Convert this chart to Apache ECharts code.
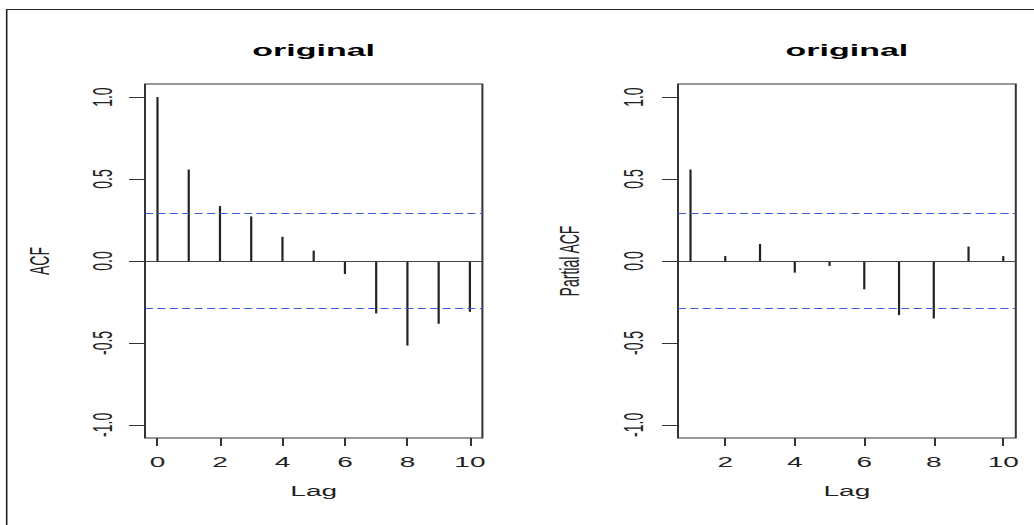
<!DOCTYPE html>
<html>
<head>
<meta charset="utf-8">
<script src="https://cdn.jsdelivr.net/npm/echarts@6/dist/echarts.min.js"></script>
<style>
html,body{margin:0;padding:0;background:#fff;overflow:hidden;}
#c{width:517px;height:525px;transform:scaleX(2);transform-origin:0 0;}
</style>
</head>
<body>
<div id="c"></div>
<script>
// ---- data ----
const acfLags = [0, 1, 2, 3, 4, 5, 6, 7, 8, 9, 10];
const acfValues = [1.0, 0.558, 0.335, 0.272, 0.148, 0.063, -0.079, -0.32, -0.516, -0.383, -0.31];
const pacfLags = [1, 2, 3, 4, 5, 6, 7, 8, 9, 10];
const pacfValues = [0.558, 0.030, 0.104, -0.071, -0.030, -0.173, -0.33, -0.351, 0.088, 0.030];
const ciBound = 0.29;
const acfTicksX = [0, 2, 4, 6, 8, 10];
const pacfTicksX = [2, 4, 6, 8, 10];
const yTicks = [-1, -0.5, 0, 0.5, 1];
const panelTitles = ['original', 'original'];
const yNames = ['ACF', 'Partial ACF'];
const xName = 'Lag';

const FONT = 'Liberation Sans, Arial, sans-serif';
const TXT = '#222';

function pairs(xs, ys) { return xs.map((x, i) => [x, ys[i]]); }

function xAxisCfg(idx, min, max, ticks) {
  return {
    type: 'value', gridIndex: idx, min: min, max: max,
    axisLine: { show: false, onZero: false },
    splitLine: { show: false },
    axisTick: { show: true, length: 8, customValues: ticks, lineStyle: { color: '#333', width: 1 } },
    axisLabel: { customValues: ticks, margin: 17, fontSize: 14, fontFamily: FONT, color: TXT },
    name: xName, nameLocation: 'middle', nameGap: 46,
    nameTextStyle: { fontSize: 14, fontFamily: FONT, color: TXT }
  };
}
function yAxisCfg(idx, name, gap, margin) {
  return {
    type: 'value', gridIndex: idx, min: -1.08, max: 1.08,
    axisLine: { show: false, onZero: false },
    splitLine: { show: false },
    axisTick: { show: true, length: 8, customValues: yTicks, lineStyle: { color: '#333', width: 1 } },
    axisLabel: { customValues: yTicks, rotate: 90, margin: margin, fontSize: 14, fontFamily: FONT, color: TXT,
      formatter: v => v.toFixed(1) },
    name: name, nameLocation: 'middle', nameRotate: 90, nameGap: gap,
    nameTextStyle: { fontSize: 14, fontFamily: FONT, color: TXT }
  };
}
function spikeSeries(idx, xs, ys) {
  return {
    type: 'bar', xAxisIndex: idx, yAxisIndex: idx,
    data: pairs(xs, ys), barWidth: 1.1,
    itemStyle: { color: '#222' },
    silent: true,
    z: 3
  };
}
function refLineSeries(idx) {
  return {
    type: 'line', xAxisIndex: idx, yAxisIndex: idx, data: [], silent: true, z: 2,
    markLine: {
      silent: true, symbol: ['none', 'none'], label: { show: false }, animation: false,
      emphasis: { disabled: true },
      data: [
        { yAxis: 0, lineStyle: { color: '#444', width: 1, type: 'solid', opacity: 1 } },
        { yAxis: ciBound, lineStyle: { color: '#3b5bd6', width: 1.2, type: [4, 2.2], opacity: 1 } },
        { yAxis: -ciBound, lineStyle: { color: '#3b5bd6', width: 1.2, type: [4, 2.2], opacity: 1 } }
      ]
    }
  };
}

const chart = echarts.init(document.getElementById('c'), null, { renderer: 'svg' });
chart.setOption({
  animation: false,
  backgroundColor: '#fff',
  title: [
    { text: panelTitles[0], left: 156.85, top: 42, textAlign: 'center', padding: 0,
      textStyle: { fontSize: 17, fontWeight: 'bold', fontFamily: FONT, color: '#000' } },
    { text: panelTitles[1], left: 423.45, top: 42, textAlign: 'center', padding: 0,
      textStyle: { fontSize: 17, fontWeight: 'bold', fontFamily: FONT, color: '#000' } }
  ],
  grid: [
    { left: 72.5, top: 84, width: 168.7, height: 354, show: true, borderColor: '#333', borderWidth: 1, backgroundColor: 'transparent' },
    { left: 339, top: 84, width: 168.9, height: 354, show: true, borderColor: '#333', borderWidth: 1, backgroundColor: 'transparent' }
  ],
  xAxis: [
    xAxisCfg(0, -0.4, 10.4, acfTicksX),
    xAxisCfg(1, 0.64, 10.36, pacfTicksX)
  ],
  yAxis: [
    yAxisCfg(0, yNames[0], 45.5, 14),
    yAxisCfg(1, yNames[1], 47, 15)
  ],
  graphic: [
    { type: 'rect', silent: true, shape: { x: 3.35, y: 9.5, width: 800, height: 800 },
      style: { fill: 'none', stroke: '#222', lineWidth: 0.8 } }
  ],
  series: [
    refLineSeries(0),
    refLineSeries(1),
    spikeSeries(0, acfLags, acfValues),
    spikeSeries(1, pacfLags, pacfValues)
  ]
});
</script>
</body>
</html>
